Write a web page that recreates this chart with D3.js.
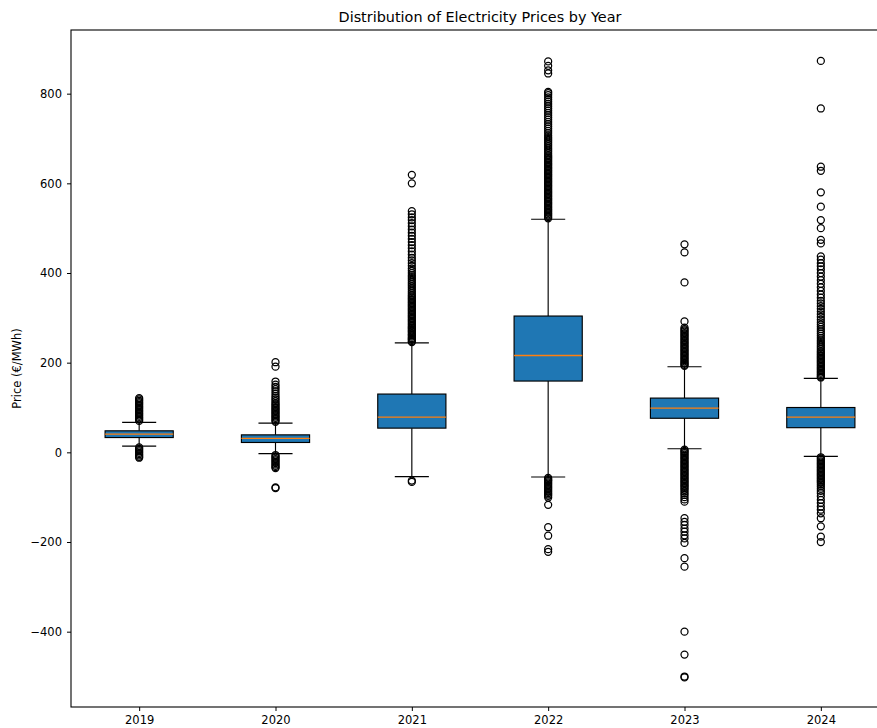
<!DOCTYPE html>
<html>
<head>
<meta charset="utf-8">
<script src="https://cdn.jsdelivr.net/npm/d3@7"></script>
<style>
  html, body { margin: 0; padding: 0; background: #fff; }
  svg text { font-family: "DejaVu Sans", sans-serif; fill: #000; }
</style>
</head>
<body>
<svg id="chart" width="877" height="728"></svg>
<script>
// Years on the x axis
const years = ["2019", "2020", "2021", "2022", "2023", "2024"];

// Box statistics per year (€/MWh)
const q1 = [33, 22, 54, 159, 76, 55];
const medians = [40.5, 31, 78.5, 216, 98.5, 78.5];
const q3 = [48, 39, 130, 304, 121, 100];
const whiskerLow = [14, -3, -54, -55, 8, -9];
const whiskerHigh = [67, 65, 244, 520, 191, 165];

// Outlying prices per year
const outliers2019 = [70, 73, 76, 79, 82, 85, 88, 91, 94, 97, 100, 103, 106, 109, 112, 115, 118, 121,
  11, 8, 5, 2, -1, -4, -7, -10, -12];
const outliers2020 = [68, 71, 74, 77, 80, 83, 86, 89, 92, 95, 98, 101, 104, 107, 110, 114, 118, 122,
  126, 131, 136, 141, 146, 151, 158, 191, 201,
  -6, -9, -12, -15, -18, -21, -24, -27, -30, -33, -35, -78, -80];
const outliers2021 = [246, 248, 251, 253, 255, 258, 261, 263, 266, 269, 271, 274, 277, 279, 282, 285,
  288, 291, 294, 297, 300, 303, 306, 309, 312, 315, 318, 321, 324, 327, 330, 333, 336, 339, 342,
  345, 348, 351, 355, 359, 363, 367, 371, 375, 379, 383, 387, 391, 395, 400, 405, 410, 416, 422,
  428, 434, 441, 448, 455, 462, 469, 476, 483, 490, 497, 504, 511, 518, 524, 531, 538, 600, 619,
  -63, -66];
const outliers2022 = [522, 525, 528, 531, 534, 537, 540, 543, 546, 549, 552, 555, 558, 561, 564, 567,
  570, 573, 576, 579, 582, 585, 588, 591, 594, 597, 600, 603, 606, 609, 612, 615, 618, 621, 624,
  627, 630, 633, 636, 639, 642, 645, 648, 651, 654, 657, 660, 663, 667, 671, 675, 679, 683, 687,
  691, 695, 699, 703, 707, 712, 717, 722, 727, 732, 737, 742, 747, 752, 757, 762, 767, 772, 777,
  782, 787, 792, 797, 801, 804, 845, 852, 862, 872,
  -57, -60, -62, -64, -67, -70, -73, -76, -79, -82, -85, -88, -91, -94, -97, -101, -117, -167,
  -186, -216, -222];
const outliers2023 = [193, 195, 198, 200, 203, 206, 209, 212, 215, 218, 221, 224, 227, 230, 233, 236,
  239, 242, 245, 248, 251, 254, 257, 260, 263, 266, 269, 272, 275, 278, 292, 379, 446, 464,
  6, 3, 1, -2, -5, -8, -11, -14, -17, -20, -23, -26, -29, -32, -35, -38, -41, -44, -47, -50, -53,
  -56, -59, -62, -65, -68, -71, -74, -77, -80, -83, -87, -91, -95, -100, -105, -110,
  -147, -155, -162, -170, -177, -185, -192, -202, -236, -255, -400, -451, -500, -502];
const outliers2024 = [167, 169, 172, 175, 178, 181, 184, 187, 190, 193, 196, 199, 202, 205, 208, 211,
  214, 217, 220, 223, 226, 230, 234, 238, 242, 246, 250, 255, 260, 265, 270, 275, 280, 285, 290,
  296, 302, 308, 314, 320, 326, 332, 338, 345, 352, 360, 368, 376, 384, 392, 400, 408, 415, 422,
  430, 437, 466, 474, 500, 518, 548, 580, 628, 637, 767, 873,
  -11, -14, -17, -20, -23, -26, -29, -32, -35, -38, -41, -44, -47, -50, -53, -56, -59, -62, -65,
  -68, -72, -76, -81, -86, -91, -98, -106, -113, -121, -128, -136, -147, -165, -188, -200];
const outliers = [outliers2019, outliers2020, outliers2021, outliers2022, outliers2023, outliers2024];

// Axis tick values
const yTicks = [-400, -200, 0, 200, 400, 600, 800];

const svg = d3.select("#chart");
const plotLeft = 71, plotRight = 889, plotTop = 30, plotBottom = 707;

const x = d3.scaleLinear().domain([0.5, years.length + 0.5]).range([plotLeft, plotRight]);
const y = d3.scaleLinear().domain([-568, 942]).range([plotBottom, plotTop]);

const boxW = x(1.5) - x(1);         // box spans 0.5 of a category
const capW = boxW / 2;
const fmt = d => (d < 0 ? "\u2212" + Math.abs(d) : String(d));

const plot = svg.append("g");

years.forEach((yr, i) => {
  const cx = x(i + 1);
  const g = plot.append("g");
  // whiskers
  g.append("line").attr("x1", cx).attr("x2", cx)
    .attr("y1", y(q3[i])).attr("y2", y(whiskerHigh[i]))
    .attr("stroke", "#000").attr("stroke-width", 1.15);
  g.append("line").attr("x1", cx).attr("x2", cx)
    .attr("y1", y(q1[i])).attr("y2", y(whiskerLow[i]))
    .attr("stroke", "#000").attr("stroke-width", 1.15);
  // caps
  [whiskerHigh[i], whiskerLow[i]].forEach(v => {
    g.append("line").attr("x1", cx - capW / 2).attr("x2", cx + capW / 2)
      .attr("y1", y(v)).attr("y2", y(v))
      .attr("stroke", "#000").attr("stroke-width", 1.15);
  });
  // box
  g.append("rect")
    .attr("x", cx - boxW / 2).attr("width", boxW)
    .attr("y", y(q3[i])).attr("height", y(q1[i]) - y(q3[i]))
    .attr("fill", "#1f77b4").attr("stroke", "#000").attr("stroke-width", 1.15);
  // median
  g.append("line").attr("x1", cx - boxW / 2).attr("x2", cx + boxW / 2)
    .attr("y1", y(medians[i])).attr("y2", y(medians[i]))
    .attr("stroke", "#ff7f0e").attr("stroke-width", 1.3);
  // fliers
  g.selectAll("circle").data(outliers[i]).join("circle")
    .attr("cx", cx).attr("cy", d => y(d)).attr("r", 3.5)
    .attr("fill", "none").attr("stroke", "#000").attr("stroke-width", 1.25);
});

// axes
const yAxis = d3.axisLeft(y).tickValues(yTicks).tickFormat(fmt).tickSize(4).tickPadding(5);
const xAxis = d3.axisBottom(x).tickValues(d3.range(1, years.length + 1))
  .tickFormat(d => years[d - 1]).tickSize(4).tickPadding(5);

const ga = svg.append("g").attr("transform", `translate(${plotLeft},0)`).call(yAxis);
const gb = svg.append("g").attr("transform", `translate(0,${plotBottom})`).call(xAxis);
[ga, gb].forEach(g => {
  g.select(".domain").remove();
  g.selectAll(".tick line").attr("stroke", "#000").attr("stroke-width", 1);
  g.selectAll(".tick text").attr("font-size", 11.5).attr("font-family", "DejaVu Sans").attr("fill", "#000");
});

// frame
svg.append("rect").attr("x", plotLeft).attr("y", plotTop)
  .attr("width", plotRight - plotLeft).attr("height", plotBottom - plotTop)
  .attr("fill", "none").attr("stroke", "#000").attr("stroke-width", 1.1);

// title and axis label
svg.append("text").attr("x", (plotLeft + plotRight) / 2).attr("y", 22)
  .attr("text-anchor", "middle").attr("font-size", 14.4)
  .text("Distribution of Electricity Prices by Year");
svg.append("text")
  .attr("transform", `translate(21,${(plotTop + plotBottom) / 2}) rotate(-90)`)
  .attr("text-anchor", "middle").attr("font-size", 11.5)
  .text("Price (€/MWh)");
</script>
</body>
</html>
